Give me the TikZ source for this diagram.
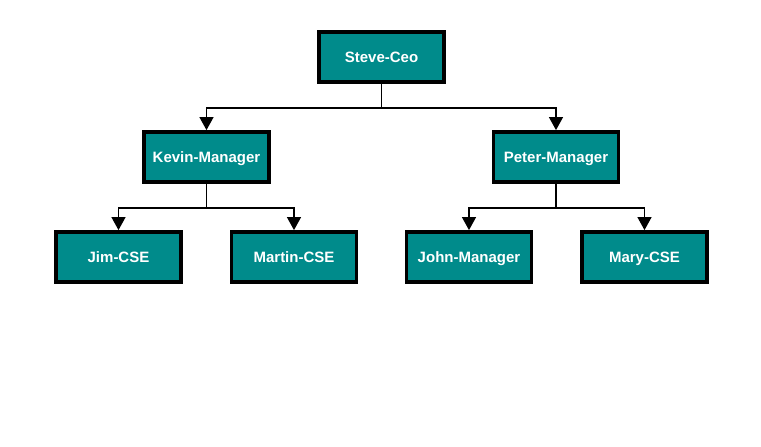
\documentclass[tikz,border=0pt]{standalone}
\usepackage{fontspec}
\setmainfont{Liberation Sans}
\usetikzlibrary{arrows.meta}
\definecolor{boxteal}{HTML}{008B8B}

\begin{document}
\begin{tikzpicture}[x=1pt,y=-1pt,
  emp/.style={shape=rectangle,draw=black,fill=boxteal,text=white,line width=3.8pt,
    minimum width=125pt,minimum height=50pt,align=center,
    text height=10.8pt,text depth=0pt,
    font=\fontsize{15}{17}\selectfont\bfseries},
  link/.style={-{Triangle[length=13pt,width=14pt]},draw=black,line width=1.2pt,
    to path={(\tikztostart) -- ++(0,24) -| (\tikztotarget)}}]
\useasboundingbox (0,0) rectangle (761,447);
\node[emp] (0) at (381.5,57) {Steve-Ceo};
\node[emp] (1) at (206.5,157) {Kevin-Manager};
\node[emp] (2) at (556,157) {Peter-Manager};
\node[emp] (3) at (118.5,257) {Jim-CSE};
\node[emp] (4) at (294,257) {Martin-CSE};
\node[emp] (5) at (469,257) {John-Manager};
\node[emp] (6) at (644.5,257) {Mary-CSE};

\path (0.south) edge [link] node {} (1.north);
\path (0.south) edge [link] node {} (2.north);
\path (1.south) edge [link] node {} (3.north);
\path (1.south) edge [link] node {} (4.north);
\path (2.south) edge [link] node {} (5.north);
\path (2.south) edge [link] node {} (6.north);
\end{tikzpicture}
\end{document}
